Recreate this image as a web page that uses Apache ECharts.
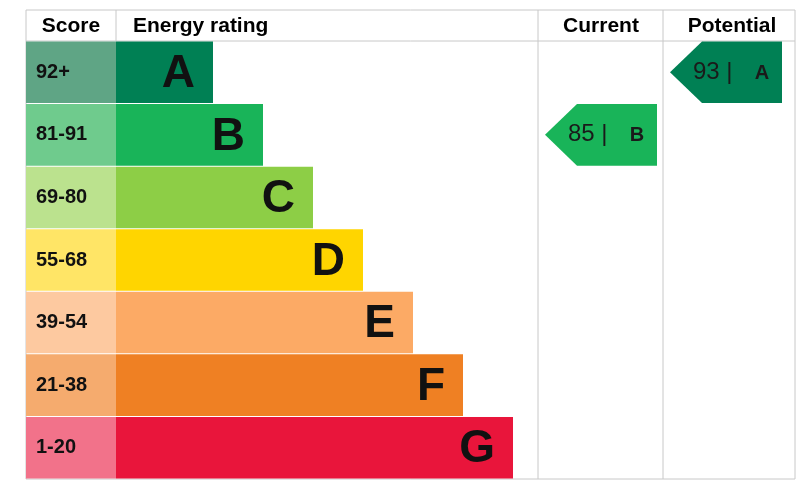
<!DOCTYPE html>
<html><head><meta charset="utf-8">
<script src="https://cdn.jsdelivr.net/npm/echarts@6/dist/echarts.min.js"></script>
<style>html,body{margin:0;padding:0;background:#fff}#c{width:811px;height:495px}</style>
</head><body><div id="c"></div>
<script>
const letters = ['A','B','C','D','E','F','G'];
const scoreLabels = ['92+','81-91','69-80','55-68','39-54','21-38','1-20'];
const barEnds = [213,263,313,363,413,463,513];
const barColors = ['#008054','#19b459','#8dce46','#ffd500','#fcaa65','#ef8023','#e9153b'];
const scoreColors = ['#5fa585','#6fcb8d','#bbe28e','#ffe566','#fdc9a0','#f5ab6e','#f2728a'];
const headers = ['Score','Energy rating','Current','Potential'];
const currentRating = {score:85, letter:'B'};
const potentialRating = {score:93, letter:'A'};

const F = 'Liberation Sans, Arial, sans-serif';
const chart = echarts.init(document.getElementById('c'));
const rows = letters.map((l,i)=>[i, barEnds[i]]);

function rowBox(api, i){
  const top = api.coord([0, i])[1] - api.size([0,1])[1]/2;
  const h = api.size([0,1])[1];
  return {top, h};
}

chart.setOption({
  animation:false,
  grid:{left:0,right:0,top:41,bottom:16},
  xAxis:{type:'value',min:0,max:811,show:false},
  yAxis:{type:'category',data:letters,inverse:true,show:false},
  graphic:[
    {type:'rect',shape:{x:26,y:10,width:769,height:469},style:{fill:'none',stroke:'#c8c8c8',lineWidth:1}},
    {type:'line',shape:{x1:26,y1:41,x2:795,y2:41},style:{stroke:'#c8c8c8'}},
    {type:'line',shape:{x1:116,y1:10,x2:116,y2:41},style:{stroke:'#c8c8c8'}},
    {type:'line',shape:{x1:538,y1:10,x2:538,y2:479},style:{stroke:'#c8c8c8'}},
    {type:'line',shape:{x1:663,y1:10,x2:663,y2:479},style:{stroke:'#c8c8c8'}},
    {type:'text',style:{text:headers[0],x:71,y:26,align:'center',verticalAlign:'middle',font:'bold 21px '+F,fill:'#000'}},
    {type:'text',style:{text:headers[1],x:133,y:26,align:'left',verticalAlign:'middle',font:'bold 21px '+F,fill:'#000'}},
    {type:'text',style:{text:headers[2],x:601,y:26,align:'center',verticalAlign:'middle',font:'bold 21px '+F,fill:'#000'}},
    {type:'text',style:{text:headers[3],x:732,y:26,align:'center',verticalAlign:'middle',font:'bold 21px '+F,fill:'#000'}}
  ],
  series:[
    {type:'custom',data:rows,renderItem:(p,api)=>{
      const i=api.value(0), end=api.value(1);
      const {top,h}=rowBox(api,i);
      const x0=api.coord([26,i])[0], x1=api.coord([116,i])[0], x2=api.coord([end,i])[0];
      return {type:'group',children:[
        {type:'rect',shape:{x:x0,y:top+0.5,width:x1-x0,height:h-1},style:{fill:scoreColors[i]}},
        {type:'rect',shape:{x:x1,y:top+0.5,width:x2-x1,height:h-1},style:{fill:barColors[i]}},
        {type:'text',style:{text:scoreLabels[i],x:x0+10,y:top+h/2,verticalAlign:'middle',font:'bold 20px '+F,fill:'#111'}},
        {type:'text',style:{text:letters[i],x:x2-18,y:top+h/2+2,align:'right',verticalAlign:'middle',font:'bold 46px '+F,fill:'#111'}}
      ]};
    }},
    {type:'custom',data:[[letters.indexOf(currentRating.letter),currentRating.score,0],[letters.indexOf(potentialRating.letter),potentialRating.score,1]],
     renderItem:(p,api)=>{
      const i=api.value(0), sc=api.value(1), col=api.value(2);
      const {top,h}=rowBox(api,i);
      const left = col===0?545:670, right = col===0?657:782;
      const xl=api.coord([left,i])[0], xr=api.coord([right,i])[0], xb=api.coord([left+32,i])[0];
      const L=letters[i];
      return {type:'group',children:[
        {type:'polygon',shape:{points:[[xl,top+h/2],[xb,top+0.5],[xr,top+0.5],[xr,top+h-0.5],[xb,top+h-0.5]]},style:{fill:barColors[i]}},
        {type:'text',style:{text:sc+' |',x:xb-9,y:top+h/2,verticalAlign:'middle',font:'24px '+F,fill:'#1a1a1a'}},
        {type:'text',style:{text:L,x:xr-20,y:top+h/2+1,align:'center',verticalAlign:'middle',font:'bold 20px '+F,fill:'#1a1a1a'}}
      ]};
    }}
  ]
});
</script></body></html>
